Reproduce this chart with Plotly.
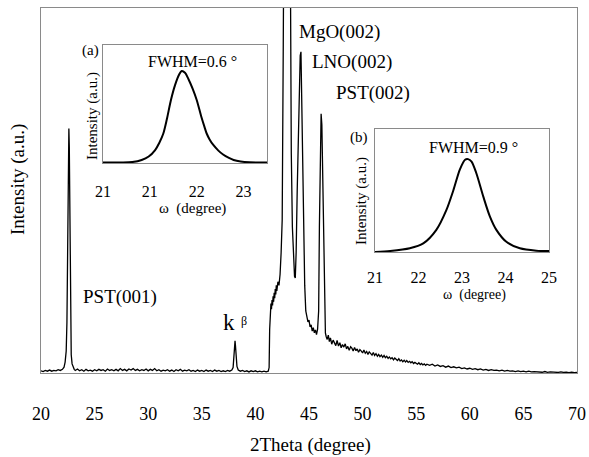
import plotly.graph_objects as go

# ---------------- data ----------------
two_theta = [
    20.0, 20.2, 20.4, 20.6, 20.8, 21.0, 21.2, 21.4, 21.6, 21.8, 22.0,
    22.15, 22.25, 22.35, 22.42, 22.48, 22.52, 22.56, 22.6, 22.64, 22.68, 22.72, 22.76, 22.82, 22.9,
    23.0, 23.1, 23.2, 23.4, 23.6, 23.8, 24.0, 24.2, 24.4, 24.6, 24.8,
    25.0, 25.2, 25.4, 25.6, 25.8, 26.0, 26.2, 26.4, 26.6, 26.8,
    27.0, 27.2, 27.4, 27.6, 27.8, 28.0, 28.2, 28.4, 28.6, 28.8,
    29.0, 29.2, 29.4, 29.6, 29.8, 30.0, 30.2, 30.4, 30.6, 30.8,
    31.0, 31.2, 31.4, 31.6, 31.8, 32.0, 32.2, 32.4, 32.6, 32.8,
    33.0, 33.2, 33.4, 33.6, 33.8, 34.0, 34.2, 34.4, 34.6, 34.8,
    35.0, 35.2, 35.4, 35.6, 35.8, 36.0, 36.2, 36.4, 36.6, 36.8,
    37.0, 37.2, 37.4, 37.6, 37.8, 37.92, 38.0, 38.06, 38.1, 38.14, 38.2, 38.28, 38.4,
    38.6, 38.8, 39.0, 39.2, 39.4, 39.6, 39.8, 40.0, 40.2, 40.4, 40.6, 40.8, 41.0, 41.2,
    41.28, 41.33, 41.38, 41.45, 41.5, 41.55, 41.6, 41.65, 41.7, 41.75, 41.8, 41.85, 41.9,
    41.95, 42.0, 42.1, 42.2, 42.3, 42.4, 42.5, 42.6, 42.7, 42.8, 42.95, 43.1, 43.2, 43.27,
    43.35, 43.45, 43.55, 43.65, 43.72, 43.8, 43.9, 44.0, 44.1, 44.18, 44.25, 44.33, 44.4,
    44.46, 44.53, 44.6, 44.7, 44.8, 44.9, 45.0, 45.1, 45.2, 45.3, 45.4, 45.5, 45.6, 45.7,
    45.8, 45.9, 45.97, 46.05, 46.13, 46.2, 46.28, 46.37, 46.45, 46.53, 46.6, 46.7, 46.8,
    46.9, 47.0, 47.12, 47.25, 47.38, 47.5, 47.62, 47.75, 47.88,
    48.0, 48.12, 48.25, 48.38, 48.5, 48.62, 48.75, 48.88,
    49.0, 49.12, 49.25, 49.38, 49.5, 49.62, 49.75, 49.88,
    50.0, 50.12, 50.25, 50.38, 50.5, 50.62, 50.75, 50.88,
    51.0, 51.12, 51.25, 51.38, 51.5, 51.62, 51.75, 51.88,
    52.0, 52.12, 52.25, 52.38, 52.5, 52.62, 52.75, 52.88,
    53.0, 53.12, 53.25, 53.38, 53.5, 53.62, 53.75, 53.88,
    54.0, 54.12, 54.25, 54.38, 54.5, 54.62, 54.75, 54.88,
    55.0, 55.12, 55.25, 55.38, 55.5, 55.62, 55.75, 55.88,
    56.0, 56.25, 56.5, 56.75, 57.0, 57.25, 57.5, 57.75, 58.0, 58.25, 58.5, 58.75,
    59.0, 59.25, 59.5, 59.75, 60.0, 60.25, 60.5, 60.75, 61.0, 61.25, 61.5, 61.75,
    62.0, 62.25, 62.5, 62.75, 63.0, 63.25, 63.5, 63.75, 64.0, 64.25, 64.5, 64.75,
    65.0, 65.25, 65.5, 65.75, 66.0, 66.25, 66.5, 66.75, 67.0, 67.25, 67.5, 67.75,
    68.0, 68.25, 68.5, 68.75, 69.0, 69.25, 69.5, 69.75, 70.0,
]
intensity = [
    0.6, 0.4, 0.7, 0.5, 0.8, 0.5, 0.7, 0.6, 0.9, 0.7, 1.0,
    1.6, 3.0, 6.0, 14.0, 30.0, 50.0, 64.0, 67.0, 62.0, 45.0, 25.0, 12.0, 5.0, 2.5,
    1.5, 1.0, 0.7, 1.1, 0.6, 0.9, 0.5, 1.0, 0.6, 0.8, 0.5,
    0.9, 0.6, 1.0, 0.7, 0.9, 0.5, 1.1, 0.7, 0.9, 0.6,
    1.0, 0.6, 1.2, 0.7, 1.0, 0.6, 1.1, 0.8, 1.2, 0.7,
    1.0, 0.6, 0.9, 0.7, 1.1, 0.6, 1.0, 0.7, 1.2, 0.6,
    0.9, 0.5, 0.8, 0.6, 0.9, 0.5, 0.8, 0.4, 0.9, 0.6,
    1.0, 0.5, 0.8, 0.6, 0.9, 0.5, 0.7, 0.4, 0.8, 0.5,
    0.7, 0.4, 0.8, 0.5, 0.7, 0.4, 0.8, 0.5, 0.7, 0.4,
    0.6, 0.4, 0.7, 0.5, 0.8, 1.5, 4.0, 7.5, 8.8, 7.5, 4.0, 1.8, 0.8,
    0.5, 0.7, 0.4, 0.6, 0.3, 0.6, 0.4, 0.6, 0.3, 0.5, 0.3, 0.5, 0.3, 0.5,
    1.5, 12.0, 18.0, 19.0, 17.5, 20.0, 18.5, 21.0, 19.5, 22.0, 20.5, 23.0, 21.5,
    24.0, 22.5, 25.0, 24.0, 27.0, 33.0, 42.0, 90.0, 170.0, 260.0, 300.0, 240.0, 150.0, 100.0,
    60.0, 40.0, 30.0, 26.5, 26.0, 33.0, 50.0, 66.0, 82.0, 87.0, 88.0, 75.0, 58.0,
    47.0, 32.0, 24.0, 17.0, 15.5, 14.0, 14.5, 12.6, 13.2, 11.5, 12.4, 11.0, 11.8, 10.5,
    12.0, 17.0, 40.0, 62.0, 71.0, 68.0, 54.0, 29.0, 16.0, 11.0, 10.0, 9.2, 10.4,
    8.6, 9.6, 7.9, 9.0, 8.2, 7.5, 8.9, 7.4, 8.3,
    6.9, 7.8, 7.1, 8.0, 6.6, 7.3, 6.2, 7.2,
    6.8, 6.0, 7.0, 6.1, 6.6, 5.7, 6.4, 6.0,
    5.5, 6.3, 5.4, 5.9, 5.1, 5.8, 5.3, 4.9,
    5.6, 4.8, 5.3, 4.6, 5.1, 4.5, 4.9, 4.3,
    4.8, 4.2, 4.6, 4.0, 4.4, 3.9, 4.2, 3.6,
    4.1, 3.7, 3.4, 3.9, 3.3, 3.6, 3.1, 3.5,
    3.0, 3.4, 2.9, 3.2, 2.8, 3.1, 2.6, 2.9,
    2.7, 2.4, 2.8, 2.3, 2.6, 2.2, 2.5, 2.1,
    2.4, 2.1, 2.4, 1.9, 2.2, 1.8, 2.0, 1.6, 1.9, 1.5, 1.7, 1.4,
    1.6, 1.2, 1.4, 1.1, 1.3, 1.0, 1.2, 0.9, 1.1, 0.8, 1.0, 0.7,
    0.9, 0.7, 0.8, 0.6, 0.8, 0.5, 0.7, 0.5, 0.6, 0.4, 0.6, 0.4,
    0.5, 0.3, 0.5, 0.3, 0.4, 0.3, 0.4, 0.2, 0.4, 0.2, 0.3, 0.2,
    0.3, 0.15, 0.3, 0.15, 0.25, 0.1, 0.25, 0.1, 0.2,
]

# inset (a): rocking curve, FWHM = 0.6
omega_a = [20.6, 20.9, 21.1, 21.26, 21.38, 21.49, 21.56, 21.63, 21.69, 21.76, 21.83, 21.9,
           21.944, 22.0, 22.06, 22.13, 22.2, 22.28, 22.33, 22.37, 22.42, 22.48, 22.57,
           22.65, 22.75, 22.83, 22.95, 23.1, 23.4]
rock_a = [0.005, 0.005, 0.008, 0.025, 0.055, 0.11, 0.17, 0.25, 0.37, 0.534, 0.66, 0.75,
          0.78, 0.765, 0.71, 0.63, 0.534, 0.39, 0.31, 0.25, 0.2, 0.155, 0.105,
          0.072, 0.043, 0.025, 0.012, 0.006, 0.005]

# inset (b): rocking curve, FWHM = 0.9
omega_b = [21.0, 21.35, 21.8, 22.11, 22.41, 22.64, 22.8, 22.95, 23.07, 23.14, 23.22, 23.33,
           23.49, 23.64, 23.79, 24.02, 24.33, 24.71, 25.0]
rock_b = [0.0, 0.008, 0.03, 0.07, 0.18, 0.34, 0.5, 0.67, 0.75, 0.755, 0.735, 0.64,
          0.45, 0.29, 0.18, 0.083, 0.03, 0.011, 0.008]

main_tickvals = [20, 25, 30, 35, 40, 45, 50, 55, 60, 65, 70]
inset_a_tickvals = [20.6, 21.4, 22.2, 23.0]
inset_a_ticktext = ["21", "21", "22", "23"]
inset_b_tickvals = [21, 22, 23, 24, 25]

# ---------------- figure ----------------
W, H = 589, 457
FONT = "Liberation Serif, Times New Roman, serif"
FRAME = "#8a8a8a"


def px(x):
    return x / W


def py(y):
    return 1 - y / H


fig = go.Figure()
fig.add_trace(go.Scatter(x=two_theta, y=intensity, mode="lines",
                         line=dict(color="black", width=1.3), xaxis="x", yaxis="y",
                         showlegend=False, hoverinfo="skip"))
fig.add_trace(go.Scatter(x=omega_a, y=rock_a, mode="lines", line_shape="spline",
                         line=dict(color="black", width=2, smoothing=0.8), xaxis="x2", yaxis="y2",
                         showlegend=False, hoverinfo="skip"))
fig.add_trace(go.Scatter(x=omega_b, y=rock_b, mode="lines", line_shape="spline",
                         line=dict(color="black", width=2, smoothing=0.8), xaxis="x3", yaxis="y3",
                         showlegend=False, hoverinfo="skip"))

common = dict(showgrid=False, zeroline=False, showline=True, mirror=True,
              linecolor=FRAME, linewidth=1, automargin=False)

fig.update_layout(
    width=W, height=H,
    margin=dict(l=0, r=0, t=0, b=0, autoexpand=False),
    paper_bgcolor="white", plot_bgcolor="white",
    font=dict(family=FONT, color="black"),
    xaxis=dict(domain=[px(41), px(577)], range=[20, 70], anchor="y",
               tickvals=main_tickvals, ticks="outside", ticklen=24,
               tickcolor="rgba(0,0,0,0)", tickfont=dict(family=FONT, size=18), **common),
    yaxis=dict(domain=[py(373), py(8)], range=[0, 100], anchor="x",
               showticklabels=False, ticks="", **common),
    xaxis2=dict(domain=[px(103), px(267)], range=[20.6, 23.4], anchor="y2",
                tickvals=inset_a_tickvals, ticktext=inset_a_ticktext,
                ticks="outside", ticklen=14, tickcolor="rgba(0,0,0,0)",
                tickfont=dict(family=FONT, size=16), **common),
    yaxis2=dict(domain=[py(163), py(45)], range=[0, 1], anchor="x2",
                showticklabels=False, ticks="", **common),
    xaxis3=dict(domain=[px(375), px(549)], range=[21, 25], anchor="y3",
                tickvals=inset_b_tickvals, ticks="outside", ticklen=11,
                tickcolor="rgba(0,0,0,0)", tickfont=dict(family=FONT, size=16), **common),
    yaxis3=dict(domain=[py(252), py(129)], range=[0, 1], anchor="x3",
                showticklabels=False, ticks="", **common),
)


def note(text, x, y, size, angle=0):
    fig.add_annotation(text=text, x=px(x), y=py(y), xref="paper", yref="paper",
                       xanchor="center", yanchor="middle", showarrow=False,
                       textangle=angle, font=dict(family=FONT, size=size, color="black"))


# main axis titles
note("2Theta (degree)", 310, 445, 19)
note("Intensity (a.u.)", 18, 180, 19, angle=-90)

# peak labels
note("MgO(002)", 339, 32, 19)
note("LNO(002)", 352, 62, 19)
note("PST(002)", 373, 93, 19)
note("PST(001)", 120, 297, 19)
note("k", 229, 322, 23)
note("β", 244, 321, 12)

# inset (a)
note("(a)", 90, 50, 15)
note("FWHM=0.6 °", 192, 62, 16)
note("Intensity (a.u.)", 93, 116, 15, angle=-90)
note("ω  (degree)", 192, 208, 15)

# inset (b)
note("(b)", 359, 137, 15)
note("FWHM=0.9 °", 473, 147, 16)
note("Intensity (a.u.)", 361, 201, 15, angle=-90)
note("ω  (degree)", 475, 295, 14)

fig.write_html("out.html")
